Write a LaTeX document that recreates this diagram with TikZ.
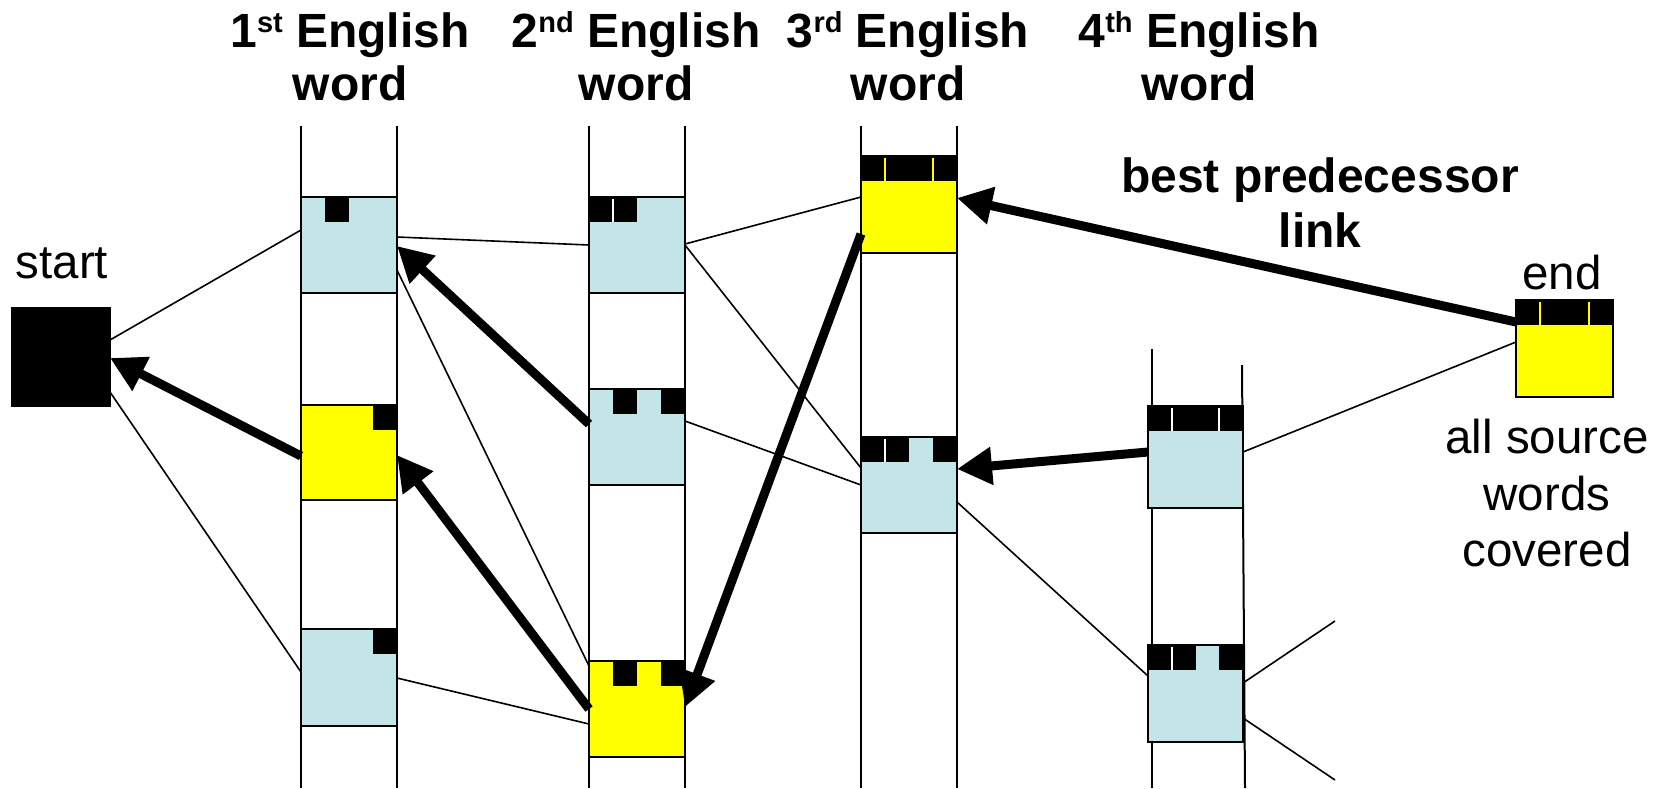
\documentclass[tikz,border=0pt]{standalone}
\usepackage{fontspec}
\setmainfont{Liberation Sans}
\usetikzlibrary{calc,arrows.meta}
\definecolor{hypblue}{RGB}{196,229,231}
\definecolor{hypyellow}{RGB}{255,255,0}
% raised small ordinal suffix
\newcommand\sups[1]{\raisebox{15pt}{\fontsize{29}{29}\selectfont #1}}
% black coverage block over the top strip of a hypothesis box (fractions of width)
\newcommand\cov[3]{\fill[black] ($(#1.north west)!#2!(#1.north east)$) rectangle ($(#1.north west)!#3!(#1.north east)+(0,25)$);}
% thin separator between two adjacent coverage blocks
\newcommand\sepl[3]{\draw[#3, line width=2pt] ($(#1.north west)!#2!(#1.north east)+(0,2)$) -- ++(0,23);}
\begin{document}
\begin{tikzpicture}[x=1pt,y=-1pt,
  lane/.style={line width=2pt},
  hyp/.style={draw=black, line width=1.5pt, fill=hypblue, minimum width=96pt,
              minimum height=96pt, inner sep=0pt, outer sep=0pt, anchor=north west},
  best/.style={hyp, fill=hypyellow},
  link/.style={line width=1.6pt},
  back/.style={line width=9pt, -{Triangle[length=35pt,width=36pt]}},
  lbl/.style={font=\fontsize{47.5}{47.5}\selectfont, anchor=base, inner sep=0pt},
  head/.style={font=\bfseries\fontsize{48}{48}\selectfont, anchor=base, inner sep=0pt}]
\useasboundingbox (0,0) rectangle (1656,788);

% lanes of the stacks
\foreach \x in {301,397,589,685,861,957} \draw[lane] (\x,126) -- (\x,788);
\draw[lane] (1152,349) -- (1152,788);
\draw[lane] (1242,365) -- (1245,788);

% column headers
\node[head] (h1a) at (350,47) {1\sups{st} English};
\node[head] (h1b) at (350,100) {word};
\node[head] (h2a) at (636,47) {2\sups{nd} English};
\node[head] (h2b) at (636,100) {word};
\node[head] (h3a) at (908,47) {3\sups{rd} English};
\node[head] (h3b) at (908,100) {word};
\node[head] (h4a) at (1199,47) {4\sups{th} English};
\node[head] (h4b) at (1199,100) {word};

% start and end states
\node[hyp, fill=black, minimum width=98pt, minimum height=98pt] (start) at (12,308) {};
\node[lbl] (startlbl) at (62,278) {start};
\node[best, minimum width=97pt, minimum height=97pt] (end) at (1516,300) {};
\node[lbl] (endlbl) at (1562,289) {end};
\node[lbl] (cov1) at (1547,453) {all source};
\node[lbl] (cov2) at (1547,510) {words};
\node[lbl] (cov3) at (1547,566) {covered};
\node[head] (bp1) at (1320,192) {best predecessor};
\node[head] (bp2) at (1320,247) {link};

% hypotheses
\node[hyp] (A1) at (301,197) {};
\node[best, minimum height=95pt] (B1) at (301,405) {};
\node[hyp, minimum height=97pt] (C1) at (301,629) {};
\node[hyp] (A2) at (589,197) {};
\node[hyp] (B2) at (589,389) {};
\node[best] (C2) at (589,661) {};
\node[best, minimum height=97pt] (A3) at (861,156) {};
\node[hyp] (B3) at (861,437) {};
\node[hyp, minimum width=95pt, minimum height=102pt] (A4) at (1148,406) {};
\node[hyp, minimum width=95pt, minimum height=97pt] (B4) at (1148,645) {};

% coverage of source words
\cov{A1}{0.25}{0.5}
\cov{B1}{0.75}{1}
\cov{C1}{0.75}{1}
\cov{A2}{0}{0.5} \sepl{A2}{0.25}{white}
\cov{B2}{0.25}{0.5} \cov{B2}{0.75}{1}
\cov{C2}{0.25}{0.5} \cov{C2}{0.75}{1}
\cov{A3}{0}{1} \sepl{A3}{0.25}{hypyellow} \sepl{A3}{0.75}{hypyellow}
\cov{B3}{0}{0.5} \sepl{B3}{0.25}{white} \cov{B3}{0.75}{1}
\cov{A4}{0}{1} \sepl{A4}{0.25}{white} \sepl{A4}{0.75}{white}
\cov{B4}{0}{0.5} \sepl{B4}{0.25}{white} \cov{B4}{0.75}{1}
\cov{end}{0}{1} \sepl{end}{0.25}{hypyellow} \sepl{end}{0.75}{hypyellow}

% expansions
\coordinate (o1) at (1335,621);
\coordinate (o2) at (1335,780);
\draw[link] ($(start.north east)+(0,32)$) -- ($(A1.north west)+(0,33)$);
\draw[link] ($(start.north east)+(0,84)$) -- ($(C1.north west)+(0,43)$);
\draw[link] ($(A1.north east)+(0,40)$) -- ($(A2.north west)+(0,48)$);
\draw[link] ($(A1.north east)+(0,73)$) -- ($(C2.north west)+(0,5)$);
\draw[link] ($(C1.north east)+(0,49)$) -- ($(C2.north west)+(0,63)$);
\draw[link] ($(A2.north east)+(0,47)$) -- ($(A3.north west)+(0,41)$);
\draw[link] ($(A2.north east)+(0,48)$) -- ($(B3.north west)+(0,31)$);
\draw[link] ($(B2.north east)+(0,32)$) -- ($(B3.north west)+(0,48)$);
\draw[link] ($(B3.north east)+(0,65)$) -- ($(B4.north west)+(0,31)$);
\draw[link] ($(A4.north east)+(0,46)$) -- ($(end.north west)+(0,42)$);
\draw[link] ($(B4.north east)+(0,38)$) -- (o1);
\draw[link] ($(B4.north east)+(0,73)$) -- (o2);

% back pointers
\draw[back] ($(B1.north west)+(0,51)$) -- ($(start.north east)+(0,50)$);
\draw[back] ($(B2.north west)+(0,35)$) -- ($(A1.north east)+(0,49)$);
\draw[back] ($(C2.north west)+(0,48)$) -- ($(B1.north east)+(0,50)$);
\draw[back] ($(A3.north west)+(0,78)$) -- ($(C2.north east)+(0,46)$);
\draw[back] ($(end.north west)+(0,22)$) -- ($(A3.north east)+(0,42)$);
\draw[back] ($(A4.north west)+(0,46)$) -- ($(B3.north east)+(0,32)$);
\end{tikzpicture}
\end{document}
